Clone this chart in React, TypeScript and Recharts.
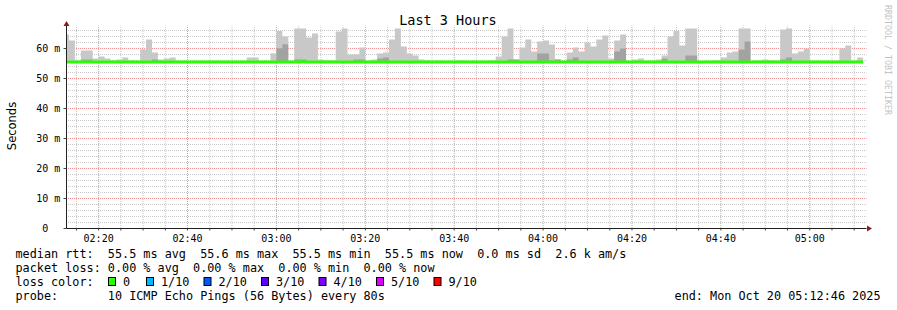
import React from "react";
import { ComposedChart, Area, Line, XAxis, YAxis, CartesianGrid } from "recharts";

const MONO = '"DejaVu Sans Mono", monospace';
const SANS = '"DejaVu Sans", sans-serif';

// clock, in seconds of the day
const GRAPH_START = 7966; // 02:12:46
const GRAPH_END = 18766; // 05:12:46
const FIRST_STEP = 8000; // first full 80s RRD step
const STEP = 80;

const Y_TOP = 67.667;
const SMOKE_FLOOR = 55.3;

// highest ping of each step (light smoke)
const SMOKE_TOP = [
  64.7, 62.7, 56.0, 59.3, 59.3, 56.7, 57.3, 56.7, 56.0, 56.3, 57.0, 56.0, 55.5, 59.7, 63.0,
  58.7, 56.3, 56.7, 57.0, 55.5, 55.5, 55.5, 55.5, 55.5, 55.5, 55.5, 55.5, 55.5, 55.5, 55.5,
  55.5, 57.0, 57.0, 55.5, 55.5, 58.4, 65.8, 64.0, 55.5, 66.7, 66.7, 63.7, 65.0, 56.3, 56.0,
  56.0, 65.7, 66.7, 58.0, 58.0, 60.3, 55.5, 56.3, 58.3, 58.7, 63.0, 66.7, 60.7, 58.3, 57.7,
  56.3, 56.0, 55.5, 56.0, 55.5, 55.5, 56.0, 56.0, 55.5, 55.5, 55.5, 55.5, 56.0, 57.3, 64.0,
  66.7, 56.3, 60.3, 63.0, 59.0, 62.3, 62.7, 61.3, 56.3, 55.8, 58.7, 60.3, 59.0, 62.0, 60.7,
  63.0, 64.3, 56.7, 62.7, 64.7, 55.5, 56.3, 56.7, 55.5, 55.5, 56.3, 57.7, 64.0, 65.8, 61.0,
  66.7, 66.7, 55.5, 55.5, 55.5, 56.0, 57.0, 58.7, 59.0, 66.7, 66.7, 55.5, 56.0, 56.3, 56.0,
  55.5, 66.3, 66.7, 58.3, 59.0, 60.0, 55.5, 55.5, 55.5, 55.5, 55.5, 60.0, 61.0, 55.5, 57.0,
];

// inner pings (dark smoke)
const SMOKE_CORE = [
  55.5, 55.5, 55.5, 56.3, 56.3, 55.5, 55.5, 55.5, 55.5, 55.5, 55.5, 55.5, 55.5, 55.5, 55.5,
  56.3, 55.5, 55.5, 55.5, 55.5, 55.5, 55.5, 55.5, 55.5, 55.5, 55.5, 55.5, 55.5, 55.5, 55.5,
  55.5, 55.5, 55.5, 55.5, 55.5, 55.5, 60.1, 61.4, 55.5, 56.3, 56.3, 55.5, 55.5, 55.5, 55.5,
  55.5, 55.5, 55.5, 55.5, 56.3, 56.3, 55.5, 55.5, 56.7, 57.0, 55.5, 55.5, 55.5, 55.5, 55.5,
  55.5, 55.5, 55.5, 55.5, 55.5, 55.5, 55.5, 55.5, 55.5, 55.5, 55.5, 55.5, 55.5, 55.5, 55.5,
  56.3, 56.3, 55.5, 55.5, 55.5, 58.3, 58.3, 56.0, 56.3, 55.5, 56.3, 57.0, 55.5, 55.5, 55.5,
  55.5, 55.5, 55.5, 59.0, 60.0, 55.5, 55.5, 55.5, 55.5, 55.5, 55.5, 56.7, 55.5, 55.5, 55.5,
  57.7, 57.7, 55.5, 55.5, 55.5, 55.5, 55.5, 55.5, 55.5, 59.7, 62.3, 55.5, 55.5, 55.5, 55.5,
  55.5, 56.3, 57.0, 55.5, 55.5, 55.5, 55.5, 55.5, 55.5, 55.5, 55.5, 55.5, 55.5, 55.5, 55.5,
];

// median rtt
const MEDIAN = [
  55.5, 55.5, 55.5, 55.5, 55.5, 55.5, 55.5, 55.5, 55.5, 55.5, 55.5, 55.5, 55.5, 55.5, 55.5,
  55.5, 55.5, 55.5, 55.5, 55.5, 55.5, 55.5, 55.5, 55.5, 55.5, 55.5, 55.5, 55.5, 55.5, 55.5,
  55.5, 55.5, 55.5, 55.5, 55.5, 55.5, 55.5, 55.5, 55.5, 55.5, 55.6, 55.5, 55.5, 55.5, 55.5,
  55.5, 55.5, 55.5, 55.5, 55.5, 55.5, 55.5, 55.5, 55.5, 55.5, 55.5, 55.5, 55.5, 55.5, 55.5,
  55.5, 55.5, 55.5, 55.5, 55.5, 55.5, 55.5, 55.5, 55.5, 55.5, 55.5, 55.5, 55.5, 55.5, 55.5,
  55.5, 55.5, 55.5, 55.5, 55.5, 55.5, 55.5, 55.5, 55.5, 55.5, 55.5, 55.5, 55.5, 55.5, 55.5,
  55.5, 55.5, 55.5, 55.5, 55.5, 55.5, 55.5, 55.5, 55.5, 55.5, 55.5, 55.5, 55.5, 55.5, 55.5,
  55.5, 55.5, 55.5, 55.5, 55.5, 55.5, 55.5, 55.5, 55.5, 55.5, 55.5, 55.5, 55.5, 55.5, 55.5,
  55.5, 55.5, 55.5, 55.5, 55.5, 55.5, 55.5, 55.5, 55.5, 55.5, 55.5, 55.5, 55.5, 55.5, 55.5,
];

const X_TICK_LABELS = ["02:20", "02:40", "03:00", "03:20", "03:40", "04:00", "04:20", "04:40", "05:00"];
const Y_TICKS = [0, 10, 20, 30, 40, 50, 60];
const Y_TICK_LABELS = [" 0", "10 m", "20 m", "30 m", "40 m", "50 m", "60 m"];

const LOSS_LABELS = ["0", "1/10", "2/10", "3/10", "4/10", "5/10", "9/10"];
const LOSS_COLORS = ["#26ff00", "#00b8ff", "#0059ff", "#5e00ff", "#7e00ff", "#dd00ff", "#ff0000"];

const RTT_LINE = "median rtt:  55.5 ms avg  55.6 ms max  55.5 ms min  55.5 ms now  0.0 ms sd  2.6 k am/s";
const LOSS_LINE = "packet loss: 0.00 % avg  0.00 % max  0.00 % min  0.00 % now";
const PROBE_LINE = "probe:       10 ICMP Echo Pings (56 Bytes) every 80s";
const END_LINE = "end: Mon Oct 20 05:12:46 2025";

const toSec = (hhmm: string) => {
  const [h, m] = hhmm.split(":").map(Number);
  return h * 3600 + m * 60;
};

const X_MAJOR = X_TICK_LABELS.map(toSec);
const X_MINOR: number[] = [];
for (let s = 8100; s < GRAPH_END; s += 300) if (!X_MAJOR.includes(s)) X_MINOR.push(s);
const X_ALL = [...X_MINOR, ...X_MAJOR].sort((a, b) => a - b);
const Y_MINOR: number[] = [];
for (let v = 2; v < Y_TOP; v += 2) if (v % 10 !== 0) Y_MINOR.push(v);

const times = SMOKE_TOP.map((_, i) => (i === 0 ? GRAPH_START : FIRST_STEP + (i - 1) * STEP));
const rows = times.map((t, i) => ({
  t,
  smoke: [SMOKE_FLOOR, SMOKE_TOP[i]],
  core: [SMOKE_FLOOR, SMOKE_CORE[i]],
  median: MEDIAN[i],
}));
// close the last step
const last = rows[rows.length - 1];
rows.push({ ...last, t: FIRST_STEP + (SMOKE_TOP.length - 1) * STEP });

function TimeTick(props: any) {
  const { x, y, payload } = props;
  const idx = X_MAJOR.indexOf(payload.value);
  if (idx < 0) return <g />;
  return (
    <text x={x} y={y} dy="0.71em" textAnchor="middle" fontFamily={MONO} fontSize={10} fill="#000">
      {X_TICK_LABELS[idx]}
    </text>
  );
}

// rrdtool pads the labels to a fixed width, so left-align them
function ValueTick(props: any) {
  const { x, y, payload } = props;
  const label = Y_TICK_LABELS[Y_TICKS.indexOf(payload.value)] ?? "";
  return (
    <text
      x={x - 24.2}
      y={y}
      dy="0.355em"
      fontFamily={MONO}
      fontSize={10}
      fill="#000"
      xmlSpace="preserve"
      style={{ whiteSpace: "pre" }}
    >
      {label}
    </text>
  );
}

export default function App() {
  const CHAR_W = 6.5;
  let bx = 108;
  const lossItems = LOSS_LABELS.map((label, i) => {
    const item = { bx, label, color: LOSS_COLORS[i] };
    bx += 31.5 + label.length * CHAR_W;
    return item;
  });

  const legendText = { fontFamily: MONO, fontSize: 11.8, fill: "#000", whiteSpace: "pre" as const };

  return (
    <div style={{ position: "absolute", left: 0, top: 0, width: 897, height: 310, background: "#fff" }}>
      <ComposedChart
        width={897}
        height={310}
        data={rows}
        margin={{ top: 25.5, right: 30.5, bottom: 61.5, left: 6.5 }}
      >
        <CartesianGrid
          stroke="#c8c8c8"
          strokeDasharray="1 1"
          strokeDashoffset={0.5}
          horizontalValues={Y_MINOR}
          verticalValues={X_MINOR}
        />
        <CartesianGrid
          stroke="#f09090"
          strokeDasharray="1 1"
          strokeDashoffset={0.5}
          horizontalValues={Y_TICKS.slice(1)}
          verticalValues={X_MAJOR}
        />
        <XAxis
          dataKey="t"
          type="number"
          domain={[GRAPH_START, GRAPH_END]}
          allowDataOverflow
          ticks={X_ALL}
          interval={0}
          tickSize={2}
          tickMargin={4}
          tick={<TimeTick />}
          tickLine={{ stroke: "#444" }}
          axisLine={{ stroke: "#222" }}
          height={20}
        />
        <YAxis
          type="number"
          domain={[0, Y_TOP]}
          allowDataOverflow
          ticks={Y_TICKS}
          interval={0}
          tickSize={3}
          tickMargin={3}
          width={60}
          tick={<ValueTick />}
          tickLine={{ stroke: "#444" }}
          axisLine={{ stroke: "#222" }}
        />
        <Area
          dataKey="smoke"
          type="stepAfter"
          stroke="none"
          fill="#c8c8c8"
          fillOpacity={1}
          dot={false}
          activeDot={false}
          isAnimationActive={false}
        />
        <Area
          dataKey="core"
          type="stepAfter"
          stroke="none"
          fill="#a2a2a2"
          fillOpacity={1}
          dot={false}
          activeDot={false}
          isAnimationActive={false}
        />
        <Line
          dataKey="median"
          type="stepAfter"
          stroke="#26ff00"
          strokeWidth={3}
          dot={false}
          activeDot={false}
          isAnimationActive={false}
        />
      </ComposedChart>

      <svg
        width={897}
        height={310}
        style={{ position: "absolute", left: 0, top: 0, pointerEvents: "none" }}
      >
        <text x={448} y={24.5} textAnchor="middle" fontFamily={MONO} fontSize={13.5} fill="#000">
          Last 3 Hours
        </text>
        <text
          transform="translate(15.5,126) rotate(-90)"
          textAnchor="middle"
          fontFamily={SANS}
          fontSize={11.5}
          fill="#000"
        >
          Seconds
        </text>
        <text
          transform="translate(884.5,5) rotate(90)"
          fontFamily={MONO}
          fontSize={8.3}
          fill="#c4c4c4"
        >
          RRDTOOL / TOBI OETIKER
        </text>
        <polygon points="63.5,26 69.5,26 66.5,21" fill="#8b1c1c" />
        <polygon points="867,225.5 867,231.5 872,228.5" fill="#8b1c1c" />

        <text x={15.5} y={258} style={legendText} xmlSpace="preserve">{RTT_LINE}</text>
        <text x={15.5} y={272} style={legendText} xmlSpace="preserve">{LOSS_LINE}</text>
        <text x={15.5} y={286} style={legendText} xmlSpace="preserve">loss color:</text>
        {lossItems.map((it) => (
          <g key={it.label}>
            <rect x={it.bx + 0.5} y={277.5} width={7} height={8} fill={it.color} stroke="#000" />
            <text x={it.bx + 15} y={286} style={legendText}>{it.label}</text>
          </g>
        ))}
        <text x={15.5} y={300} style={legendText} xmlSpace="preserve">{PROBE_LINE}</text>
        <text x={880.5} y={300} textAnchor="end" style={legendText}>{END_LINE}</text>
      </svg>
    </div>
  );
}
